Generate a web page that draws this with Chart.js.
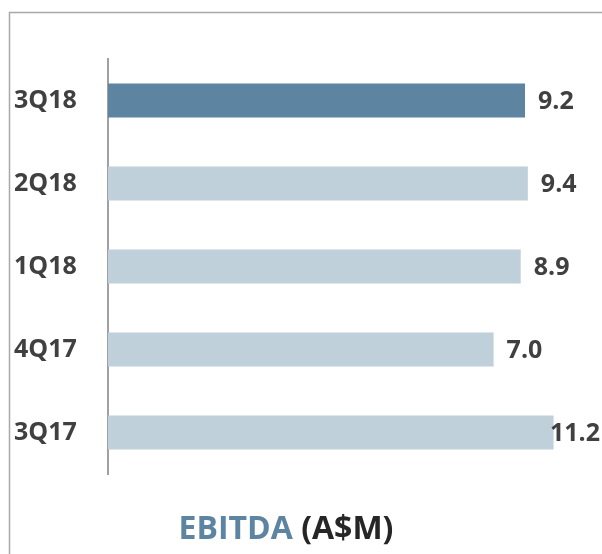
<!DOCTYPE html>
<html>
<head>
<meta charset="utf-8">
<script src="https://cdn.jsdelivr.net/npm/chart.js@4/dist/chart.umd.min.js"></script>
<style>
	html, body { margin: 0; padding: 0; background: #fff; }
	#wrap { position: relative; width: 602px; height: 554px; }
</style>
</head>
<body>
<div id="wrap"><canvas id="chart" width="602" height="554"></canvas></div>
<script>
// data
const quarters = ['3Q18', '2Q18', '1Q18', '4Q17', '3Q17'];
const ebitda = [9.2, 9.4, 8.9, 7.0, 11.2];
const titleMain = 'EBITDA';
const titleUnit = ' (A$M)';

const FONT = '"Open Sans", Lato, sans-serif';
const TEXT = '#404040';
const barColors = quarters.map((q, i) => (i === 0 ? '#5d84a0' : '#c0d0da'));

// frame line, top + left, like the slide box
const framePlugin = {
	id: 'frame',
	beforeDraw(chart) {
		const ctx = chart.ctx;
		ctx.save();
		ctx.strokeStyle = '#a8a8a8';
		ctx.lineWidth = 1.5;
		ctx.beginPath();
		ctx.moveTo(9.5, 554);
		ctx.lineTo(9.5, 12.5);
		ctx.lineTo(602, 12.5);
		ctx.stroke();
		ctx.restore();
	}
};

// value labels at bar ends
const valuePlugin = {
	id: 'values',
	afterDatasetsDraw(chart) {
		const ctx = chart.ctx;
		const meta = chart.getDatasetMeta(0);
		ctx.save();
		ctx.font = 'bold 25px ' + FONT;
		ctx.fillStyle = TEXT;
		ctx.textBaseline = 'middle';
		meta.data.forEach((bar, i) => {
			const txt = ebitda[i].toFixed(1);
			const w = ctx.measureText(txt).width;
			const x = Math.min(bar.x + 13, chart.width - 2 - w);
			ctx.fillText(txt, x, bar.y + 1);
		});
		ctx.restore();
	}
};

// two-colour title under the chart
const titlePlugin = {
	id: 'twoTitle',
	afterDraw(chart) {
		const ctx = chart.ctx;
		ctx.save();
		ctx.font = 'bold 32px ' + FONT;
		ctx.textBaseline = 'alphabetic';
		const w1 = ctx.measureText(titleMain).width;
		const w2 = ctx.measureText(titleUnit).width;
		const x0 = 286 - (w1 + w2) / 2;
		ctx.fillStyle = '#5d84a0';
		ctx.fillText(titleMain, x0, 539);
		ctx.fillStyle = '#262626';
		ctx.fillText(titleUnit, x0 + w1, 539);
		ctx.restore();
	}
};

new Chart(document.getElementById('chart'), {
	type: 'bar',
	data: {
		labels: quarters,
		datasets: [{
			data: ebitda,
			base: -20, // axis is cut, bars start at the axis line
			backgroundColor: barColors,
			borderWidth: 0,
			categoryPercentage: 1,
			barPercentage: 0.41
		}]
	},
	options: {
		indexAxis: 'y',
		responsive: false,
		animation: false,
		layout: { padding: { left: 14, top: 59, bottom: 80, right: 37 } },
		plugins: { legend: { display: false }, tooltip: { enabled: false } },
		scales: {
			x: {
				display: false,
				min: -20,
				max: 12
			},
			y: {
				grid: { display: false },
				border: { display: true, color: '#a0a0a0', width: 2 },
				ticks: {
					crossAlign: 'far',
					padding: 0,
					color: TEXT,
					font: { family: FONT, size: 25, weight: 'bold' }
				},
				afterFit(scale) { scale.width = 94; }
			}
		}
	},
	plugins: [framePlugin, valuePlugin, titlePlugin]
});
</script>
</body>
</html>
